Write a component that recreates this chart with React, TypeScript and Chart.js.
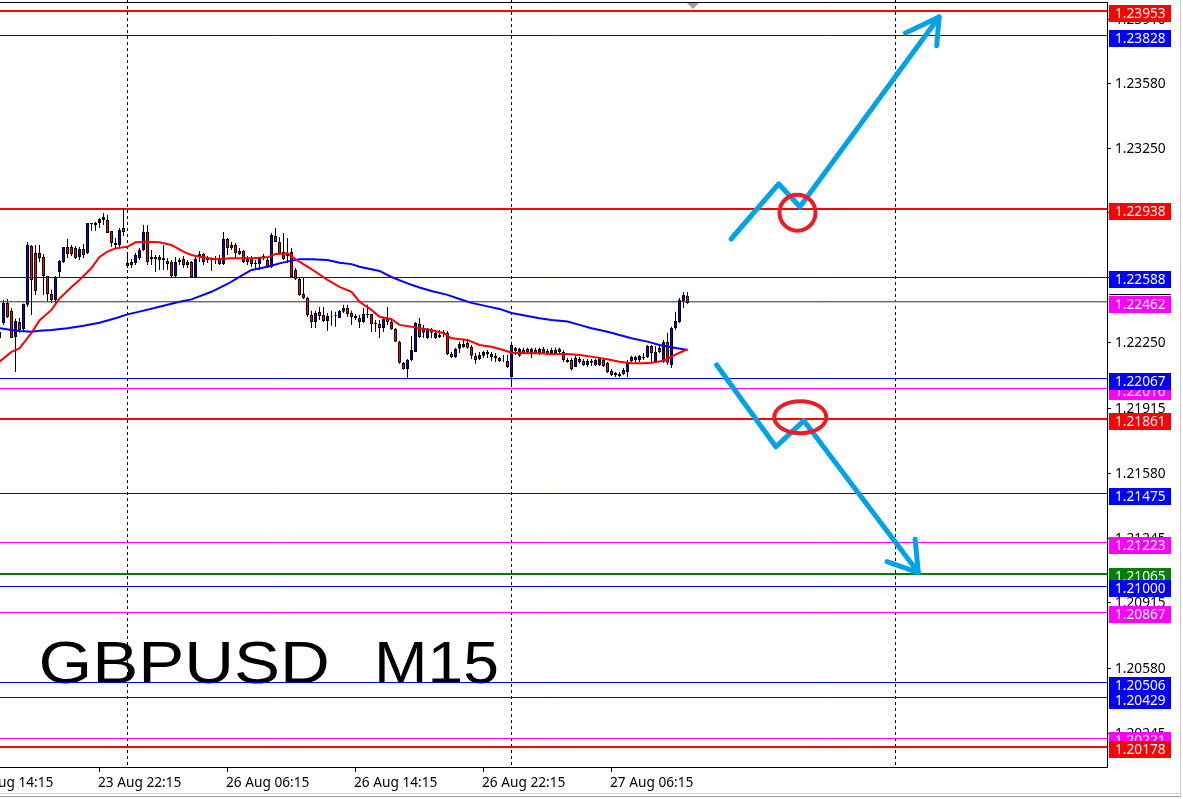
import React, { useEffect, useRef } from 'react';
import { Chart, registerables } from 'chart.js';

Chart.register(...registerables);

// ---------------- DATA ----------------
const symbolName = 'GBPUSD';
const periodName = 'M15';

// M15 candles, bar index 0..172 (oldest visible to current)
const openPrices = [
  1.22307, 1.22353, 1.22456, 1.22415, 1.22281, 1.22358, 1.22322, 1.22446, 1.22748, 1.22712,
  1.22712, 1.22692, 1.22594, 1.22502, 1.22471, 1.22615, 1.22666, 1.22743, 1.22743, 1.22738,
  1.22692, 1.22733, 1.22712, 1.22866, 1.22856, 1.22866, 1.22882, 1.22882, 1.22825, 1.22764,
  1.22753, 1.22841, 1.22661, 1.22651, 1.22661, 1.22687, 1.22728, 1.22820, 1.22692, 1.22681,
  1.22692, 1.22687, 1.22671, 1.22666, 1.22594, 1.22676, 1.22681, 1.22666, 1.22666, 1.22589,
  1.22707, 1.22707, 1.22687, 1.22676, 1.22681, 1.22687, 1.22656, 1.22784, 1.22753, 1.22753,
  1.22722, 1.22722, 1.22666, 1.22687, 1.22661, 1.22656, 1.22692, 1.22676, 1.22640, 1.22799,
  1.22769, 1.22717, 1.22712, 1.22717, 1.22625, 1.22579, 1.22502, 1.22481, 1.22394, 1.22358,
  1.22410, 1.22394, 1.22363, 1.22389, 1.22389, 1.22379, 1.22410, 1.22430, 1.22404, 1.22389,
  1.22379, 1.22358, 1.22399, 1.22399, 1.22353, 1.22348, 1.22327, 1.22374, 1.22358, 1.22322,
  1.22256, 1.22148, 1.22117, 1.22163, 1.22204, 1.22348, 1.22322, 1.22276, 1.22317, 1.22276,
  1.22281, 1.22307, 1.22302, 1.22194, 1.22178, 1.22220, 1.22230, 1.22250, 1.22230, 1.22184,
  1.22168, 1.22184, 1.22204, 1.22194, 1.22184, 1.22173, 1.22163, 1.22158, 1.22076, 1.22225,
  1.22184, 1.22214, 1.22220, 1.22199, 1.22214, 1.22199, 1.22220, 1.22209, 1.22199, 1.22214,
  1.22220, 1.22204, 1.22163, 1.22163, 1.22127, 1.22168, 1.22158, 1.22137, 1.22158, 1.22137,
  1.22137, 1.22163, 1.22148, 1.22107, 1.22096, 1.22091, 1.22091, 1.22101, 1.22158, 1.22163,
  1.22163, 1.22173, 1.22178, 1.22235, 1.22153, 1.22225, 1.22153, 1.22256, 1.22137, 1.22327,
  1.22358, 1.22466, 1.22492,
];
const highPrices = [
  1.22327, 1.22471, 1.22476, 1.22430, 1.22374, 1.22379, 1.22451, 1.22769, 1.22753, 1.22753,
  1.22753, 1.22707, 1.22594, 1.22523, 1.22594, 1.22676, 1.22743, 1.22784, 1.22753, 1.22748,
  1.22743, 1.22758, 1.22866, 1.22866, 1.22871, 1.22892, 1.22917, 1.22907, 1.22825, 1.22789,
  1.22841, 1.22943, 1.22702, 1.22681, 1.22712, 1.22738, 1.22856, 1.22856, 1.22728, 1.22702,
  1.22702, 1.22753, 1.22687, 1.22676, 1.22692, 1.22687, 1.22697, 1.22676, 1.22671, 1.22702,
  1.22722, 1.22712, 1.22697, 1.22687, 1.22697, 1.22702, 1.22820, 1.22789, 1.22769, 1.22764,
  1.22738, 1.22728, 1.22697, 1.22697, 1.22676, 1.22692, 1.22707, 1.22687, 1.22815, 1.22841,
  1.22794, 1.22815, 1.22789, 1.22738, 1.22635, 1.22589, 1.22589, 1.22487, 1.22415, 1.22415,
  1.22435, 1.22435, 1.22404, 1.22415, 1.22410, 1.22420, 1.22446, 1.22446, 1.22415, 1.22399,
  1.22394, 1.22430, 1.22446, 1.22399, 1.22368, 1.22368, 1.22379, 1.22435, 1.22379, 1.22327,
  1.22261, 1.22153, 1.22168, 1.22286, 1.22358, 1.22379, 1.22343, 1.22327, 1.22327, 1.22312,
  1.22317, 1.22317, 1.22312, 1.22204, 1.22225, 1.22256, 1.22266, 1.22266, 1.22240, 1.22199,
  1.22204, 1.22209, 1.22214, 1.22204, 1.22199, 1.22178, 1.22189, 1.22189, 1.22256, 1.22230,
  1.22225, 1.22225, 1.22225, 1.22225, 1.22225, 1.22225, 1.22230, 1.22220, 1.22225, 1.22225,
  1.22225, 1.22214, 1.22173, 1.22173, 1.22184, 1.22178, 1.22168, 1.22168, 1.22168, 1.22168,
  1.22178, 1.22173, 1.22153, 1.22117, 1.22101, 1.22101, 1.22122, 1.22163, 1.22184, 1.22184,
  1.22189, 1.22199, 1.22240, 1.22240, 1.22235, 1.22240, 1.22266, 1.22302, 1.22333, 1.22410,
  1.22481, 1.22512, 1.22512,
];
const lowPrices = [
  1.22240, 1.22343, 1.22379, 1.22276, 1.22101, 1.22302, 1.22307, 1.22435, 1.22394, 1.22497,
  1.22666, 1.22497, 1.22461, 1.22456, 1.22456, 1.22589, 1.22661, 1.22687, 1.22697, 1.22681,
  1.22676, 1.22687, 1.22707, 1.22825, 1.22825, 1.22841, 1.22856, 1.22815, 1.22743, 1.22738,
  1.22738, 1.22799, 1.22635, 1.22635, 1.22651, 1.22676, 1.22722, 1.22651, 1.22651, 1.22615,
  1.22625, 1.22625, 1.22625, 1.22589, 1.22589, 1.22651, 1.22635, 1.22635, 1.22589, 1.22589,
  1.22666, 1.22651, 1.22661, 1.22620, 1.22656, 1.22651, 1.22651, 1.22702, 1.22728, 1.22687,
  1.22702, 1.22661, 1.22651, 1.22640, 1.22635, 1.22625, 1.22676, 1.22635, 1.22635, 1.22769,
  1.22702, 1.22676, 1.22661, 1.22589, 1.22574, 1.22492, 1.22476, 1.22384, 1.22327, 1.22327,
  1.22368, 1.22358, 1.22312, 1.22338, 1.22333, 1.22379, 1.22404, 1.22384, 1.22343, 1.22368,
  1.22327, 1.22353, 1.22379, 1.22307, 1.22307, 1.22276, 1.22307, 1.22343, 1.22317, 1.22256,
  1.22143, 1.22112, 1.22071, 1.22158, 1.22204, 1.22276, 1.22276, 1.22271, 1.22276, 1.22271,
  1.22276, 1.22281, 1.22189, 1.22173, 1.22173, 1.22199, 1.22225, 1.22220, 1.22168, 1.22143,
  1.22163, 1.22173, 1.22173, 1.22158, 1.22153, 1.22153, 1.22153, 1.22122, 1.22040, 1.22189,
  1.22178, 1.22194, 1.22199, 1.22173, 1.22194, 1.22189, 1.22194, 1.22189, 1.22194, 1.22199,
  1.22199, 1.22153, 1.22148, 1.22107, 1.22127, 1.22143, 1.22132, 1.22127, 1.22132, 1.22132,
  1.22132, 1.22127, 1.22096, 1.22081, 1.22076, 1.22076, 1.22086, 1.22076, 1.22153, 1.22153,
  1.22153, 1.22163, 1.22173, 1.22153, 1.22148, 1.22199, 1.22148, 1.22137, 1.22122, 1.22317,
  1.22353, 1.22430, 1.22451,
];
const closePrices = [
  1.22276, 1.22456, 1.22384, 1.22276, 1.22363, 1.22317, 1.22451, 1.22753, 1.22574, 1.22517,
  1.22687, 1.22594, 1.22502, 1.22471, 1.22589, 1.22671, 1.22743, 1.22707, 1.22707, 1.22687,
  1.22733, 1.22702, 1.22866, 1.22861, 1.22866, 1.22887, 1.22897, 1.22815, 1.22764, 1.22753,
  1.22830, 1.22820, 1.22646, 1.22666, 1.22702, 1.22728, 1.22820, 1.22666, 1.22681, 1.22692,
  1.22676, 1.22676, 1.22656, 1.22594, 1.22666, 1.22666, 1.22651, 1.22651, 1.22589, 1.22681,
  1.22697, 1.22666, 1.22676, 1.22681, 1.22676, 1.22656, 1.22784, 1.22738, 1.22738, 1.22712,
  1.22707, 1.22666, 1.22687, 1.22656, 1.22656, 1.22687, 1.22697, 1.22640, 1.22805, 1.22769,
  1.22707, 1.22681, 1.22697, 1.22589, 1.22579, 1.22497, 1.22481, 1.22394, 1.22358, 1.22404,
  1.22389, 1.22363, 1.22389, 1.22386, 1.22392, 1.22415, 1.22430, 1.22399, 1.22384, 1.22379,
  1.22358, 1.22399, 1.22394, 1.22348, 1.22348, 1.22327, 1.22374, 1.22358, 1.22322, 1.22256,
  1.22148, 1.22117, 1.22163, 1.22214, 1.22353, 1.22281, 1.22302, 1.22317, 1.22302, 1.22302,
  1.22291, 1.22297, 1.22194, 1.22178, 1.22220, 1.22245, 1.22245, 1.22225, 1.22184, 1.22163,
  1.22189, 1.22204, 1.22194, 1.22178, 1.22173, 1.22158, 1.22161, 1.22127, 1.22240, 1.22209,
  1.22220, 1.22199, 1.22204, 1.22220, 1.22199, 1.22220, 1.22199, 1.22194, 1.22214, 1.22199,
  1.22204, 1.22163, 1.22153, 1.22117, 1.22173, 1.22153, 1.22137, 1.22158, 1.22148, 1.22163,
  1.22168, 1.22132, 1.22101, 1.22086, 1.22086, 1.22081, 1.22112, 1.22153, 1.22178, 1.22178,
  1.22184, 1.22178, 1.22235, 1.22199, 1.22204, 1.22204, 1.22256, 1.22148, 1.22327, 1.22363,
  1.22471, 1.22497, 1.22456,
];

// moving averages (bar index, price)
const maFastIndex = [0, 3, 5, 8, 10, 13, 15, 18, 20, 23, 25, 27, 29, 32, 34, 37, 40, 43, 46, 48, 50, 54, 58, 63, 67, 69, 72, 74, 77, 79, 82, 85, 88, 90, 93, 95, 98, 100, 103, 105, 108, 111, 113, 117, 120, 123, 126, 128, 132, 135, 138, 142, 145, 148, 152, 155, 158, 161, 163, 166, 168, 170, 172];
const maFastValue = [1.22154, 1.22204, 1.22222, 1.22302, 1.22366, 1.22420, 1.22478, 1.22538, 1.22574, 1.22635, 1.22692, 1.22719, 1.22736, 1.22744, 1.22767, 1.22770, 1.22767, 1.22753, 1.22719, 1.22702, 1.22693, 1.22680, 1.22685, 1.22685, 1.22690, 1.22707, 1.22711, 1.22680, 1.22642, 1.22616, 1.22574, 1.22538, 1.22513, 1.22462, 1.22420, 1.22385, 1.22372, 1.22343, 1.22334, 1.22326, 1.22317, 1.22300, 1.22274, 1.22266, 1.22240, 1.22231, 1.22214, 1.22200, 1.22197, 1.22197, 1.22193, 1.22193, 1.22188, 1.22180, 1.22166, 1.22154, 1.22146, 1.22146, 1.22149, 1.22159, 1.22180, 1.22200, 1.22218];
const maSlowIndex = [0, 3, 5, 8, 10, 13, 17, 21, 25, 29, 32, 35, 40, 45, 48, 53, 57, 60, 63, 67, 70, 73, 75, 78, 82, 85, 88, 90, 95, 98, 102, 105, 108, 112, 115, 118, 122, 125, 128, 132, 135, 138, 142, 145, 148, 152, 155, 158, 162, 165, 168, 172];
const maSlowValue = [1.22326, 1.22317, 1.22312, 1.22308, 1.22313, 1.22317, 1.22326, 1.22339, 1.22354, 1.22377, 1.22397, 1.22411, 1.22436, 1.22462, 1.22474, 1.22513, 1.22553, 1.22590, 1.22625, 1.22642, 1.22659, 1.22673, 1.22680, 1.22680, 1.22676, 1.22662, 1.22655, 1.22642, 1.22620, 1.22589, 1.22556, 1.22535, 1.22517, 1.22497, 1.22476, 1.22456, 1.22438, 1.22425, 1.22404, 1.22389, 1.22377, 1.22368, 1.22360, 1.22343, 1.22326, 1.22308, 1.22291, 1.22274, 1.22257, 1.22240, 1.22228, 1.22214];

// horizontal levels (listed in drawing order)
const levelPrices = [1.23953, 1.23828, 1.22938, 1.22588, 1.22462, 1.22016, 1.22067, 1.21861, 1.21475, 1.21223, 1.21065, 1.21000, 1.20867, 1.20506, 1.20429, 1.20221, 1.20178];
const levelKinds = ['red', 'blue', 'red', 'blue', 'magenta', 'magenta', 'blue', 'red', 'blue', 'magenta', 'green', 'blue', 'magenta', 'blue', 'blue', 'magenta', 'red'];

// axes
const yTickValues = [1.2391, 1.2358, 1.2325, 1.2292, 1.22585, 1.2225, 1.21915, 1.2158, 1.21245, 1.20915, 1.2058, 1.20245];
const xTickIndex = [-7, 25, 57, 89, 121, 153];
const xTickLabels = ['23 Aug 14:15', '23 Aug 22:15', '26 Aug 06:15', '26 Aug 14:15', '26 Aug 22:15', '27 Aug 06:15'];
const daySeparatorIndex = [32, 128, 224];

// hand-drawn scenario marks (bar index, price)
const upArrowIndex = [182.9, 194.8, 200.1, 234.9];
const upArrowPrice = [1.22784, 1.23067, 1.2295, 1.23924];
const upHeadIndex = [226.5, 234.9, 234.3];
const upHeadPrice = [1.23842, 1.23924, 1.23777];
const downArrowIndex = [179.3, 194.1, 201.1, 229.7];
const downArrowPrice = [1.22137, 1.21717, 1.21851, 1.21071];
const downHeadIndex = [221.9, 229.7, 228.9];
const downHeadPrice = [1.21127, 1.21071, 1.21242];
const markIndex = [199.5, 200.2];
const markPrice = [1.22919, 1.21869];

// view window
const X_MIN = 0.125;
const X_MAX = 276.875;
const Y_MIN = 1.200676;
const Y_MAX = 1.240113;

// ---------------- STYLE ----------------
const levelStyle: Record<string, { color: string; width: number }> = {
  red: { color: '#FF0000', width: 2 },
  blue: { color: '#0000FF', width: 1 },
  magenta: { color: '#FF00FF', width: 1 },
  green: { color: '#008000', width: 2 },
};
const markRadiusX = [18, 26];
const markRadiusY = [18, 16];
const AXIS_FONT = '13.7px "Noto Sans", "Liberation Sans", Arial, sans-serif';
const DRAW_BLUE = '#00A2E8';
const DRAW_RED = '#ED1C24';

const pts = (xs: number[], ys: number[]) => xs.map((x, k) => ({ x, y: ys[k] }));

const mt4Plugin = {
  id: 'mt4Look',
  beforeDraw(chart: any) {
    const { ctx, width, height } = chart;
    ctx.save();
    ctx.fillStyle = '#ffffff';
    ctx.fillRect(0, 0, width, height);
    ctx.restore();
  },
  beforeDatasetsDraw(chart: any) {
    const { ctx, chartArea: a, scales } = chart;
    const x = scales.x;
    ctx.save();
    // big symbol caption
    ctx.fillStyle = '#000000';
    ctx.font = '60px "Liberation Sans", Arial, sans-serif';
    ctx.textBaseline = 'alphabetic';
    ctx.textAlign = 'left';
    const drawWide = (t: string, px: number, py: number, sx: number) => {
      ctx.save();
      ctx.translate(px, py);
      ctx.scale(sx, 1);
      ctx.fillText(t, 0, 0);
      ctx.restore();
    };
    drawWide(symbolName, 38.5, 683, 1.15);
    drawWide(periodName, 374, 683, 1.07);
    // day separators
    ctx.strokeStyle = '#000000';
    ctx.lineWidth = 1;
    ctx.setLineDash([3, 3]);
    for (const d of daySeparatorIndex) {
      const px = Math.floor(x.getPixelForValue(d)) + 0.5;
      ctx.beginPath();
      ctx.moveTo(px, a.top);
      ctx.lineTo(px, a.bottom);
      ctx.stroke();
    }
    ctx.restore();
  },
  beforeDatasetDraw(chart: any, args: any) {
    const ds = chart.data.datasets[args.index];
    if (ds.snapLevel === undefined) return;
    const py = chart.scales.y.getPixelForValue(ds.snapLevel);
    const w = ds.borderWidth || 1;
    const target = w % 2 === 1 ? Math.floor(py) + 0.5 : Math.round(py);
    chart.ctx.save();
    chart.ctx.translate(0, target - py);
  },
  afterDatasetDraw(chart: any, args: any) {
    const ds = chart.data.datasets[args.index];
    if (ds.snapLevel === undefined) return;
    chart.ctx.restore();
  },
  afterDatasetsDraw(chart: any) {
    const { ctx, chartArea: a, scales } = chart;
    const x = scales.x;
    const y = scales.y;
    ctx.save();
    // red marks (circle / ellipse)
    ctx.strokeStyle = DRAW_RED;
    ctx.lineWidth = 4;
    markIndex.forEach((mi, k) => {
      const cx = x.getPixelForValue(mi);
      const cy = y.getPixelForValue(markPrice[k]);
      ctx.beginPath();
      ctx.ellipse(cx, cy, markRadiusX[k], markRadiusY[k], 0, 0, Math.PI * 2);
      ctx.stroke();
    });

    // frame
    ctx.strokeStyle = '#000000';
    ctx.lineWidth = 1;
    ctx.beginPath();
    ctx.moveTo(0, 2.5);
    ctx.lineTo(a.right + 0.5, 2.5);
    ctx.moveTo(a.right + 0.5, 2);
    ctx.lineTo(a.right + 0.5, a.bottom);
    ctx.moveTo(0, a.bottom - 0.5);
    ctx.lineTo(a.right + 1, a.bottom - 0.5);
    ctx.stroke();

    // shift marker
    ctx.fillStyle = '#A0A0A0';
    ctx.beginPath();
    ctx.moveTo(687, 3);
    ctx.lineTo(699, 3);
    ctx.lineTo(693, 9);
    ctx.closePath();
    ctx.fill();

    // price axis ticks
    ctx.font = AXIS_FONT;
    ctx.textAlign = 'left';
    ctx.textBaseline = 'middle';
    ctx.fillStyle = '#000000';
    for (const t of yTickValues) {
      const py = Math.floor(y.getPixelForValue(t)) + 0.5;
      ctx.beginPath();
      ctx.moveTo(a.right + 1, py);
      ctx.lineTo(a.right + 4, py);
      ctx.stroke();
      ctx.fillText(t.toFixed(5), a.right + 8, py + 0.5);
    }

    // level price labels
    levelPrices.forEach((p, k) => {
      const st = levelStyle[levelKinds[k]];
      const py = y.getPixelForValue(p);
      const top = Math.round(py) - 6;
      if (k === 4) {
        ctx.fillStyle = '#000000';
        ctx.fillRect(a.right + 2, top - 2, 62, 1);
      }
      ctx.fillStyle = st.color;
      ctx.fillRect(a.right + 2, top, 62, 17);
      ctx.fillStyle = '#ffffff';
      ctx.fillText(p.toFixed(5), a.right + 8, top + 9);
    });

    // time axis
    ctx.fillStyle = '#000000';
    ctx.textBaseline = 'alphabetic';
    xTickIndex.forEach((ti, k) => {
      const px = Math.floor(x.getPixelForValue(ti)) + 0.5;
      if (px > 0) {
        ctx.beginPath();
        ctx.moveTo(px, a.bottom);
        ctx.lineTo(px, a.bottom + 4);
        ctx.stroke();
      }
      ctx.fillText(xTickLabels[k], px - 1.5, 787);
    });

    // window edges
    ctx.fillStyle = '#D8D8D8';
    ctx.fillRect(0, 793, 1181, 1);
    ctx.fillStyle = '#A0A0A0';
    ctx.fillRect(0, 796, 1181, 1);
    ctx.fillStyle = '#C8C8C8';
    ctx.fillRect(1180, 0, 1, 797);
    ctx.restore();
  },
};

export default function App() {
  const ref = useRef<HTMLCanvasElement | null>(null);

  useEffect(() => {
    document.body.style.margin = '0';
    const canvas = ref.current;
    if (!canvas) return;

    const idx = openPrices.map((_, i) => i);
    const bodyColors = idx.map((i) => (closePrices[i] >= openPrices[i] ? '#0000FF' : '#FF0000'));

    const levelSets = levelPrices.map((p, k) => ({
      type: 'line' as const,
      data: [{ x: X_MIN, y: p }, { x: X_MAX, y: p }],
      borderColor: levelStyle[levelKinds[k]].color,
      borderWidth: levelStyle[levelKinds[k]].width,
      pointRadius: 0,
      order: 20,
      snapLevel: p,
    }));

    const bid = closePrices[closePrices.length - 1];

    const arrowStyle = {
      type: 'line' as const,
      borderColor: DRAW_BLUE,
      borderWidth: 5,
      pointRadius: 0,
      borderCapStyle: 'round' as const,
      borderJoinStyle: 'round' as const,
      tension: 0,
      order: 1,
    };

    const chart = new Chart(canvas, {
      type: 'bar',
      data: {
        datasets: [
          ...levelSets,
          {
            type: 'line',
            data: [{ x: X_MIN, y: bid }, { x: X_MAX, y: bid }],
            borderColor: '#C0C0C0',
            borderWidth: 1,
            pointRadius: 0,
            order: 21,
            snapLevel: bid,
          } as any,
          {
            type: 'bar',
            data: idx.map((i) => ({ x: i, y: [lowPrices[i], highPrices[i]] })),
            backgroundColor: '#000000',
            borderWidth: 0,
            barThickness: 1,
            grouped: false,
            inflateAmount: 0,
            order: 6,
          } as any,
          {
            type: 'bar',
            data: idx.map((i) => ({ x: i, y: [openPrices[i], closePrices[i]] })),
            backgroundColor: bodyColors,
            borderColor: '#000000',
            borderWidth: 1,
            borderSkipped: false,
            barThickness: 3,
            grouped: false,
            inflateAmount: 0,
            order: 5,
          } as any,
          {
            type: 'line',
            data: pts(maSlowIndex, maSlowValue),
            borderColor: '#0000FF',
            borderWidth: 2,
            pointRadius: 0,
            tension: 0,
            order: 4,
          },
          {
            type: 'line',
            data: pts(maFastIndex, maFastValue),
            borderColor: '#FF0000',
            borderWidth: 2,
            pointRadius: 0,
            tension: 0,
            order: 3,
          },
          { ...arrowStyle, data: pts(upArrowIndex, upArrowPrice) },
          { ...arrowStyle, data: pts(upHeadIndex, upHeadPrice) },
          { ...arrowStyle, data: pts(downArrowIndex, downArrowPrice) },
          { ...arrowStyle, data: pts(downHeadIndex, downHeadPrice) },
        ] as any,
      },
      options: {
        animation: false,
        responsive: false,
        maintainAspectRatio: false,
        devicePixelRatio: 1,
        events: [],
        layout: { padding: { left: 0, top: 0, right: 76, bottom: 31 } },
        plugins: { legend: { display: false }, tooltip: { enabled: false } },
        scales: {
          x: { type: 'linear', min: X_MIN, max: X_MAX, offset: false, display: false, bounds: 'data' },
          y: { type: 'linear', min: Y_MIN, max: Y_MAX, display: false, beginAtZero: false, bounds: 'data' },
        },
      } as any,
      plugins: [mt4Plugin],
    });

    return () => chart.destroy();
  }, []);

  return (
    <div style={{ position: 'absolute', left: 0, top: 0, width: 1183, height: 799 }}>
      <canvas ref={ref} width={1183} height={799} style={{ display: 'block', width: 1183, height: 799 }} />
    </div>
  );
}
